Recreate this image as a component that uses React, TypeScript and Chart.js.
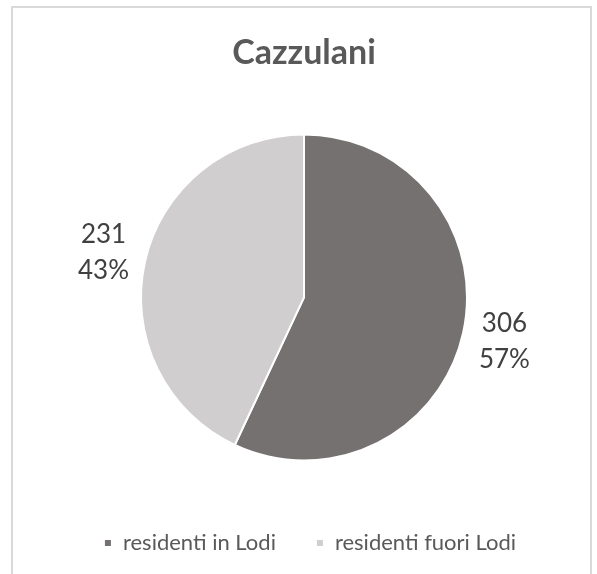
import React, { useEffect, useRef } from "react";
import { Chart, registerables } from "chart.js";

Chart.register(...registerables);

const titleText = "Cazzulani";
const categories = ["residenti in Lodi", "residenti fuori Lodi"];
const values = [306, 231];
const sliceColors = ["#767171", "#d0cece"];

const FONT = "Lato, 'Noto Sans', sans-serif";
const LEGEND_SHIFT = 6;

const outsideLabels = {
  id: "outsideLabels",
  afterLayout(chart: any) {
    if (chart.legend) {
      chart.legend.left += LEGEND_SHIFT;
      chart.legend.right += LEGEND_SHIFT;
    }
  },
  afterDatasetsDraw(chart: any) {
    const meta = chart.getDatasetMeta(0);
    const data = chart.data.datasets[0].data as number[];
    const total = data.reduce((a, b) => a + b, 0);
    const ctx = chart.ctx;
    ctx.save();
    ctx.fillStyle = "#404040";
    ctx.font = `26px ${FONT}`;
    ctx.textAlign = "center";
    ctx.textBaseline = "middle";
    meta.data.forEach((arc: any, i: number) => {
      const p = arc.getProps(["x", "y", "startAngle", "endAngle", "outerRadius"], true);
      const mid = (p.startAngle + p.endAngle) / 2;
      const r = p.outerRadius * 1.26;
      const x = p.x + Math.cos(mid) * r;
      const y = p.y + Math.sin(mid) * r;
      const pct = Math.round((data[i] / total) * 100);
      ctx.fillText(String(data[i]), x, y - 18);
      ctx.fillText(pct + "%", x, y + 18);
    });
    ctx.restore();
  },
};

export default function App() {
  const ref = useRef<HTMLCanvasElement | null>(null);
  useEffect(() => {
    if (!ref.current) return;
    const chart = new Chart(ref.current, {
      type: "pie",
      data: {
        labels: categories,
        datasets: [
          {
            data: values,
            backgroundColor: sliceColors,
            borderColor: "#ffffff",
            borderWidth: 2,
            radius: 163,
          },
        ],
      },
      options: {
        responsive: false,
        animation: false,
        layout: { padding: { top: 33, left: 11, right: 0, bottom: 0 } },
        plugins: {
          tooltip: { enabled: false },
          title: {
            display: true,
            text: titleText,
            color: "#595959",
            font: { family: FONT, size: 34, weight: "bold" },
            padding: { top: 0, bottom: 29 },
          },
          legend: {
            position: "bottom",
            labels: {
              color: "#595959",
              font: { family: FONT, size: 22 },
              boxWidth: 8,
              boxHeight: 8,
              padding: 40,
            },
          },
        },
      },
      plugins: [outsideLabels],
    });
    return () => chart.destroy();
  }, []);
  return (
    <>
      <div
        style={{
          position: "fixed",
          left: 11,
          top: 6,
          width: 581,
          height: 640,
          border: "2px solid #d9d9d9",
          boxSizing: "border-box",
        }}
      />
      <canvas
        ref={ref}
        width={597}
        height={564}
        style={{ position: "fixed", left: 0, top: 0, width: 597, height: 564 }}
      />
    </>
  );
}
